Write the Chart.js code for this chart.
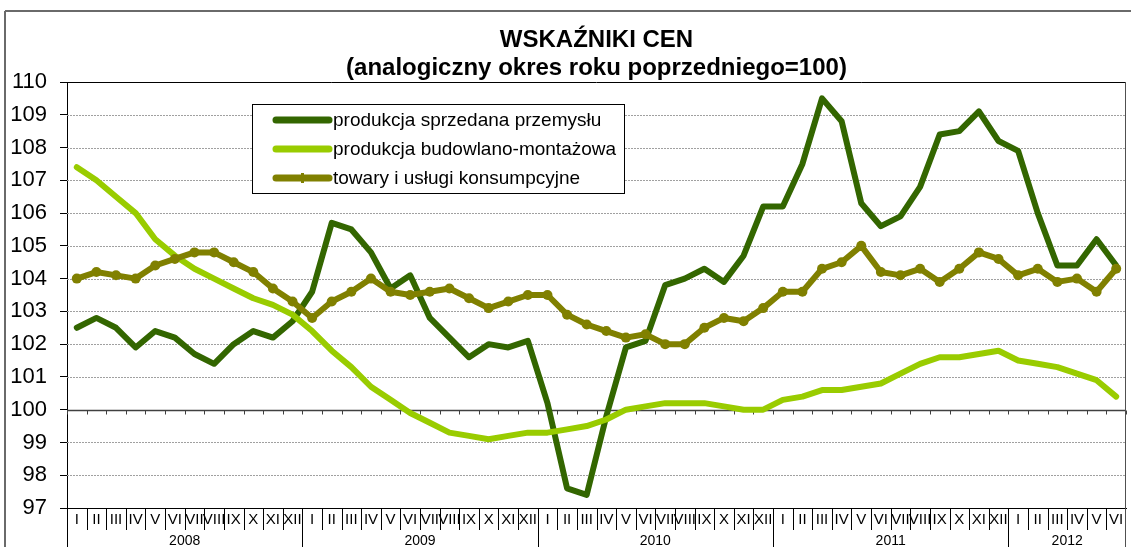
<!DOCTYPE html>
<html>
<head>
<meta charset="utf-8">
<script src="https://cdn.jsdelivr.net/npm/chart.js@4.4.0/dist/chart.umd.min.js"></script>
<style>
  html, body { margin: 0; padding: 0; background: #fff; }
  #wrap { width: 1131px; height: 547px; }
</style>
</head>
<body>
<div id="wrap"><canvas id="chart" width="1131" height="547"></canvas></div>
<script>
const months = ['I', 'II', 'III', 'IV', 'V', 'VI', 'VII', 'VIII', 'IX', 'X', 'XI', 'XII'];
const years = ['2008', '2009', '2010', '2011', '2012'];
const monthsPerYear = [12, 12, 12, 12, 6];
const yTickValues = [97, 98, 99, 100, 101, 102, 103, 104, 105, 106, 107, 108, 109, 110];

// produkcja sprzedana przemysłu
const przemysl = [
  102.5, 102.8, 102.5, 101.9, 102.4, 102.2, 101.7, 101.4, 102.0, 102.4, 102.2, 102.7,
  103.6, 105.7, 105.5, 104.8, 103.7, 104.1, 102.8, 102.2, 101.6, 102.0, 101.9, 102.1,
  100.2, 97.6, 97.4, 99.8, 101.9, 102.1, 103.8, 104.0, 104.3, 103.9, 104.7, 106.2,
  106.2, 107.5, 109.5, 108.8, 106.3, 105.6, 105.9, 106.8, 108.4, 108.5, 109.1, 108.2,
  107.9, 106.0, 104.4, 104.4, 105.2, 104.4
];
// produkcja budowlano-montażowa
const budowlanka = [
  107.4, 107.0, 106.5, 106.0, 105.2, 104.7, 104.3, 104.0, 103.7, 103.4, 103.2, 102.9,
  102.4, 101.8, 101.3, 100.7, 100.3, 99.9, 99.6, 99.3, 99.2, 99.1, 99.2, 99.3,
  99.3, 99.4, 99.5, 99.7, 100.0, 100.1, 100.2, 100.2, 100.2, 100.1, 100.0, 100.0,
  100.3, 100.4, 100.6, 100.6, 100.7, 100.8, 101.1, 101.4, 101.6, 101.6, 101.7, 101.8,
  101.5, 101.4, 101.3, 101.1, 100.9, 100.4
];
// towary i usługi konsumpcyjne
const konsumpcja = [
  104.0, 104.2, 104.1, 104.0, 104.4, 104.6, 104.8, 104.8, 104.5, 104.2, 103.7, 103.3,
  102.8, 103.3, 103.6, 104.0, 103.6, 103.5, 103.6, 103.7, 103.4, 103.1, 103.3, 103.5,
  103.5, 102.9, 102.6, 102.4, 102.2, 102.3, 102.0, 102.0, 102.5, 102.8, 102.7, 103.1,
  103.6, 103.6, 104.3, 104.5, 105.0, 104.2, 104.1, 104.3, 103.9, 104.3, 104.8, 104.6,
  104.1, 104.3, 103.9, 104.0, 103.6, 104.3
];

const monthLabels = [];
const yearOfPoint = [];
years.forEach((yr, i) => {
  for (let m = 0; m < monthsPerYear[i]; m++) {
    monthLabels.push(months[m]);
    yearOfPoint.push(yr);
  }
});

const FONT = "'Liberation Sans', Arial, sans-serif";
const DARK = '#336600', LIGHT = '#99cc00', OLIVE = '#808000';

function line(ctx, x1, y1, x2, y2) {
  ctx.beginPath();
  ctx.moveTo(x1, y1);
  ctx.lineTo(x2, y2);
  ctx.stroke();
}

const decor = {
  id: 'decor',
  beforeDatasetsDraw(chart) {
    const { ctx, chartArea: a, scales: { x, y } } = chart;
    ctx.save();
    // dashed grid lines
    ctx.strokeStyle = '#a0a0a0';
    ctx.lineWidth = 1;
    ctx.setLineDash([2, 1]);
    yTickValues.forEach(v => {
      if (v === 100 || v === yTickValues[0] || v === yTickValues[yTickValues.length - 1]) return;
      const py = Math.round(y.getPixelForValue(v)) + 0.5;
      line(ctx, a.left, py, a.right, py);
    });
    ctx.setLineDash([]);
    // axis line at 100 with small ticks
    const half = (x.getPixelForValue(1) - x.getPixelForValue(0)) / 2;
    const p100 = Math.round(y.getPixelForValue(100)) + 0.5;
    ctx.strokeStyle = '#404040';
    ctx.lineWidth = 1.5;
    line(ctx, a.left, p100, a.right, p100);
    ctx.lineWidth = 1;
    for (let i = 0; i <= monthLabels.length; i++) {
      const px = Math.round(x.getPixelForValue(i) - half) + 0.5;
      line(ctx, px, p100, px, p100 + 4);
    }
    ctx.restore();
  },
  afterDraw(chart) {
    const { ctx, chartArea: a, scales: { x } } = chart;
    ctx.save();
    // plot frame top and right
    ctx.strokeStyle = '#000';
    ctx.lineWidth = 1;
    line(ctx, a.left, a.top + 0.5, a.right, a.top + 0.5);
    ctx.strokeStyle = '#505050';
    line(ctx, a.right - 0.5, a.top, a.right - 0.5, chart.height);
    // outer frame
    ctx.strokeStyle = '#6a6a6a';
    ctx.lineWidth = 2;
    line(ctx, 5, 11, chart.width, 11);
    line(ctx, 5, 11, 5, chart.height);

    // title
    const cx = (a.left + a.right) / 2;
    ctx.fillStyle = '#000';
    ctx.textAlign = 'center';
    ctx.textBaseline = 'middle';
    ctx.font = 'bold 24px ' + FONT;
    ctx.fillText('WSKAŹNIKI CEN', cx, 40);
    ctx.fillText('(analogiczny okres roku poprzedniego=100)', cx, 68);

    // category labels
    const half = (x.getPixelForValue(1) - x.getPixelForValue(0)) / 2;
    ctx.font = '15px ' + FONT;
    ctx.strokeStyle = '#000';
    ctx.lineWidth = 1;
    monthLabels.forEach((m, i) => {
      ctx.fillText(m, x.getPixelForValue(i), a.bottom + 12);
    });
    for (let i = 0; i < monthLabels.length; i++) {
      const px = Math.round(x.getPixelForValue(i) - half) + 0.5;
      const yearEdge = i === 0 || yearOfPoint[i] !== yearOfPoint[i - 1];
      line(ctx, px, a.bottom, px, yearEdge ? chart.height : a.bottom + 22);
    }
    ctx.font = '14px ' + FONT;
    let start = 0;
    years.forEach((yr, k) => {
      const end = start + monthsPerYear[k] - 1;
      const mid = (x.getPixelForValue(start) + x.getPixelForValue(end)) / 2;
      ctx.fillText(yr, mid, a.bottom + 33);
      start = end + 1;
    });

    // legend
    const lx = a.left + 185, ly = a.top + 22, lw = 372, lh = 89;
    ctx.fillStyle = '#fff';
    ctx.fillRect(lx, ly, lw, lh);
    ctx.strokeStyle = '#000';
    ctx.lineWidth = 1;
    ctx.strokeRect(lx + 0.5, ly + 0.5, lw, lh);
    ctx.textAlign = 'left';
    ctx.font = '19px ' + FONT;
    chart.data.datasets.forEach((ds, i) => {
      const ry = ly + 16 + i * 29;
      ctx.strokeStyle = ds.borderColor;
      ctx.lineWidth = 7;
      ctx.lineCap = 'round';
      line(ctx, lx + 24, ry, lx + 77, ry);
      if (ds.pointRadius > 0) {
        ctx.fillStyle = ds.borderColor;
        ctx.fillRect(lx + 49, ry - 5, 3, 10);
      }
      ctx.fillStyle = '#000';
      ctx.fillText(ds.label, lx + 81, ry + 1);
    });
    ctx.restore();
  }
};

new Chart(document.getElementById('chart'), {
  type: 'line',
  data: {
    labels: monthLabels,
    datasets: [
      { label: 'produkcja sprzedana przemysłu', data: przemysl, borderColor: DARK, borderWidth: 6, pointRadius: 0, order: 3 },
      { label: 'produkcja budowlano-montażowa', data: budowlanka, borderColor: LIGHT, borderWidth: 6, pointRadius: 0, order: 2 },
      { label: 'towary i usługi konsumpcyjne', data: konsumpcja, borderColor: OLIVE, borderWidth: 6, pointRadius: 5,
        pointBackgroundColor: OLIVE, pointBorderWidth: 0, order: 1 }
    ]
  },
  options: {
    responsive: false,
    animation: false,
    devicePixelRatio: 1,
    layout: { padding: { top: 82, left: 0, right: 2, bottom: 0 } },
    plugins: { legend: { display: false }, title: { display: false }, tooltip: { enabled: false } },
    elements: { line: { tension: 0, borderCapStyle: 'round', borderJoinStyle: 'round' } },
    scales: {
      x: {
        offset: true,
        grid: { display: false },
        ticks: { display: false },
        border: { display: true, color: '#000', width: 1 },
        afterFit: s => { s.height = 39; }
      },
      y: {
        min: 97,
        max: 110,
        afterBuildTicks: s => { s.ticks = yTickValues.map(v => ({ value: v })); },
        ticks: { color: '#000', font: { family: FONT, size: 22 }, padding: 13 },
        grid: { drawOnChartArea: false, drawTicks: true, tickLength: 7, color: '#000' },
        border: { display: true, color: '#000', width: 1 },
        afterFit: s => { s.width = 67; }
      }
    }
  },
  plugins: [decor]
});
</script>
</body>
</html>
